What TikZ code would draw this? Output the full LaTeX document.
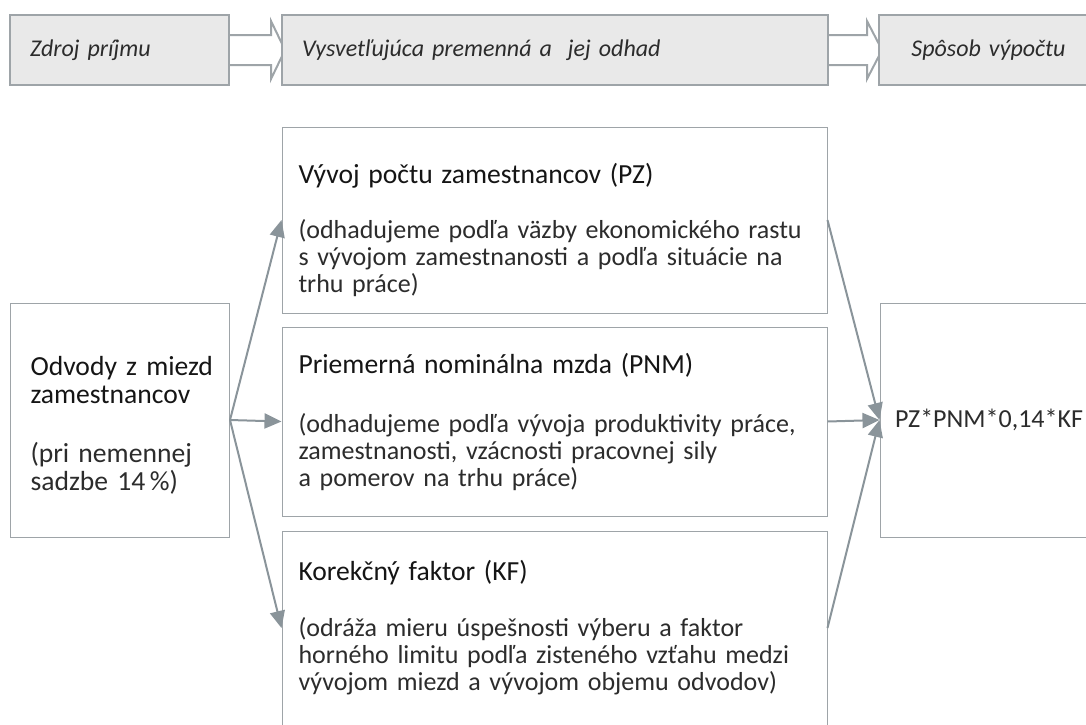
\documentclass[tikz,border=0pt]{standalone}
\usepackage{fontspec}
\setmainfont{Carlito}
\usepackage{tikz}
\usetikzlibrary{positioning,calc,backgrounds}
\usetikzlibrary{arrows.meta}
\definecolor{boxline}{HTML}{9EA4A8}
\definecolor{arrowgray}{HTML}{8A949A}
\definecolor{headfill}{HTML}{E9E9E9}
\definecolor{textgray}{HTML}{2C2C2C}
\definecolor{titlegray}{HTML}{151515}
\tikzstyle{flow}=[
  x=0.5pt,y=-0.5pt,font=\fontsize{13}{13.5}\selectfont,text=textgray
]
\tikzstyle{headbox}=[
  draw=boxline,line width=1pt,fill=headfill,minimum height=35pt,inner xsep=10pt,
  font=\fontsize{12}{13}\selectfont\itshape
]
\tikzstyle{blockarrow}=[
  draw=boxline,line width=1pt,fill=white
]
\tikzstyle{itembox}=[
  draw=boxline,line width=0.5pt,fill=white,align=left,inner xsep=8.25pt
]
\tikzstyle{link}=[
  draw=arrowgray,line width=1pt,-{Triangle[length=8.5pt,width=7.5pt]}
]
\newcommand{\boxtitle}[1]{{\fontsize{13.8}{13.5}\selectfont\color{titlegray}#1}}

\begin{document}
\begin{tikzpicture}[flow]
    \useasboundingbox (0,0) rectangle (1086,724);
    \clip (0,0) rectangle (1086,724);
    % header
    \node (zdroj) at (119.5,50) [headbox,text width=89.5pt,align=left] {Zdroj príjmu};
    \node (vysvet) at (555,50) [headbox,text width=253pt,align=left] {Vysvetľujúca premenná a \ jej odhad};
    \node (sposob) at (988.5,50) [headbox,text width=89.5pt,align=center] {Spôsob výpočtu};
    % boxes
    \node (odvody) at (120,420) [itembox,inner xsep=10pt,text width=89.5pt,minimum height=117pt,
      font=\fontsize{13.8}{14}\selectfont]
      {\rule{0pt}{15pt}\mbox{\color{titlegray}Odvody z miezd}\\ \mbox{\color{titlegray}zamestnancov}\\[15.5pt]
       \mbox{(pri nemennej}\\ \mbox{sadzbe 14\,\%)}};
    \node (pz) at (554.5,220) [itembox,text width=256pt,minimum height=93pt]
      {\rule{0pt}{20pt}\boxtitle{Vývoj počtu zamestnancov (PZ)}\\[14pt]
       (odhadujeme podľa väzby ekonomického rastu\\ s vývojom zamestnanosti a podľa situácie na\\ trhu práce)};
    \node (pnm) at (554.5,421.5) [itembox,text width=256pt,minimum height=94.5pt]
      {\boxtitle{Priemerná nominálna mzda (PNM)}\\[16pt]
       (odhadujeme podľa vývoja produktivity práce,\\ zamestnanosti, vzácnosti pracovnej sily\\ a pomerov na trhu práce)};
    \node (kf) at (554.5,628) [itembox,text width=256pt,minimum height=97pt]
      {\boxtitle{Korekčný faktor (KF)}\\[14.5pt]
       (odráža mieru úspešnosti výberu a faktor\\ horného limitu podľa zisteného vzťahu medzi\\ vývojom miezd a vývojom objemu odvodov)};
    \node (vzorec) at (990,420) [itembox,inner xsep=7.5pt,text width=95pt,minimum height=117pt]
      {\mbox{PZ*PNM*0,14*KF}};
    \begin{scope}[on background layer]
      \draw [blockarrow] ($(zdroj.east)+(-2,-15)$) -- ($(vysvet.west)+(-10,-15)$)
        -- ($(vysvet.west)+(-10,-29)$) -- ($(vysvet.west)+(4,0)$)
        -- ($(vysvet.west)+(-10,29)$) -- ($(vysvet.west)+(-10,15)$)
        -- ($(zdroj.east)+(-2,15)$) -- cycle;
      \draw [blockarrow] ($(vysvet.east)+(-5,-15)$) -- ($(sposob.west)+(-11,-15)$)
        -- ($(sposob.west)+(-11,-29)$) -- ($(sposob.west)+(4,0)$)
        -- ($(sposob.west)+(-11,29)$) -- ($(sposob.west)+(-11,15)$)
        -- ($(vysvet.east)+(-5,15)$) -- cycle;
    \end{scope}
    \draw [link] (odvody.east) -- (pz.west);
    \draw [link] (odvody.east) -- (pnm.west);
    \draw [link] (odvody.east) -- (kf.west);
    \draw [link] (pz.east) -- (vzorec.west);
    \draw [link] (pnm.east) -- (vzorec.west);
    \draw [link] (kf.east) -- (vzorec.west);
  \end{tikzpicture}
\end{document}
